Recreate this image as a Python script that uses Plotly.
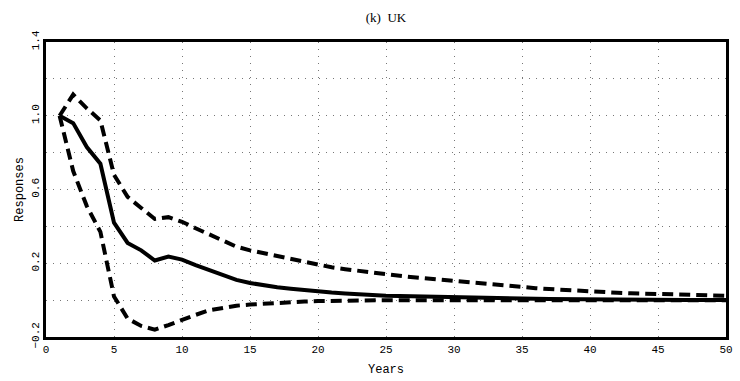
import plotly.graph_objects as go

years = list(range(1, 51))

median = [1.00, 0.96, 0.83, 0.74, 0.42, 0.31, 0.27, 0.215, 0.236, 0.22,
          0.19, 0.165, 0.135, 0.11, 0.093, 0.08, 0.07, 0.062, 0.054, 0.047,
          0.041, 0.036, 0.031, 0.027, 0.024, 0.022, 0.020, 0.018, 0.016, 0.014,
          0.012, 0.011, 0.010, 0.009, 0.008, 0.007, 0.006, 0.005, 0.004, 0.004,
          0.003, 0.003, 0.002, 0.002, 0.002, 0.001, 0.001, 0.001, 0.001, 0.001]

upper = [1.00, 1.115, 1.04, 0.975, 0.68, 0.56, 0.50, 0.44, 0.45, 0.425,
         0.39, 0.355, 0.32, 0.29, 0.27, 0.255, 0.24, 0.222, 0.205, 0.19,
         0.178, 0.168, 0.158, 0.149, 0.14, 0.132, 0.124, 0.117, 0.110, 0.104,
         0.097, 0.090, 0.083, 0.076, 0.070, 0.065, 0.060, 0.055, 0.050, 0.046,
         0.043, 0.040, 0.037, 0.035, 0.033, 0.031, 0.029, 0.027, 0.025, 0.024]

lower = [1.00, 0.70, 0.51, 0.37, 0.02, -0.10, -0.14, -0.16, -0.135, -0.105,
         -0.08, -0.055, -0.04, -0.03, -0.024, -0.019, -0.015, -0.011, -0.008, -0.005,
         -0.003, -0.002, -0.001, 0.0, 0.0, 0.0, 0.0, 0.0, 0.0, 0.0,
         0.0, 0.0, 0.0, 0.0, 0.0, 0.0, 0.0, 0.0, 0.0, 0.0,
         0.0, 0.0, 0.0, 0.0, 0.0, 0.0, 0.0, 0.0, 0.0, 0.0]

y_ticks = [-0.2, 0.0, 0.2, 0.4, 0.6, 0.8, 1.0, 1.2, 1.4]
y_ticktext = ["\u22120.2", "", "0.2", "", "0.6", "", "1.0", "", "1.4"]
x_ticks = [0, 5, 10, 15, 20, 25, 30, 35, 40, 45, 50]

mono = "Liberation Mono"

fig = go.Figure()
fig.add_trace(go.Scatter(x=years, y=upper, mode="lines",
                         line=dict(color="black", width=4, dash="11px,6px")))
fig.add_trace(go.Scatter(x=years, y=lower, mode="lines",
                         line=dict(color="black", width=4, dash="11px,6px")))
fig.add_trace(go.Scatter(x=years, y=median, mode="lines",
                         line=dict(color="black", width=4)))

fig.update_layout(
    width=740, height=381,
    margin=dict(l=46, r=7, t=42, b=43),
    paper_bgcolor="white", plot_bgcolor="white",
    showlegend=False,
    title=dict(text="(k)  UK", x=0.5, xref="paper", xanchor="center",
               y=1 - 17 / 381, yref="container", yanchor="middle",
               font=dict(family="Liberation Serif", size=13, color="black")),
    font=dict(family=mono, size=11, color="black"),
)
grid = dict(showgrid=True, gridcolor="#777777", griddash="1px,6px", gridwidth=1)
fig.update_xaxes(
    range=[0, 50], tickvals=x_ticks, ticks="", showline=True, linewidth=2.5,
    linecolor="black", mirror=True, zeroline=False, **grid,
    tickfont=dict(family=mono, size=11),
    title=dict(text="Years", font=dict(family=mono, size=12), standoff=10),
)
fig.update_yaxes(
    range=[-0.2, 1.4], tickvals=y_ticks, ticktext=y_ticktext, tickangle=-90,
    ticks="", showline=True, linewidth=2.5, linecolor="black", mirror=True,
    zeroline=False, **grid, tickfont=dict(family=mono, size=11),
    title=dict(text="Responses", font=dict(family=mono, size=12), standoff=4),
)

fig.write_html("out.html")
